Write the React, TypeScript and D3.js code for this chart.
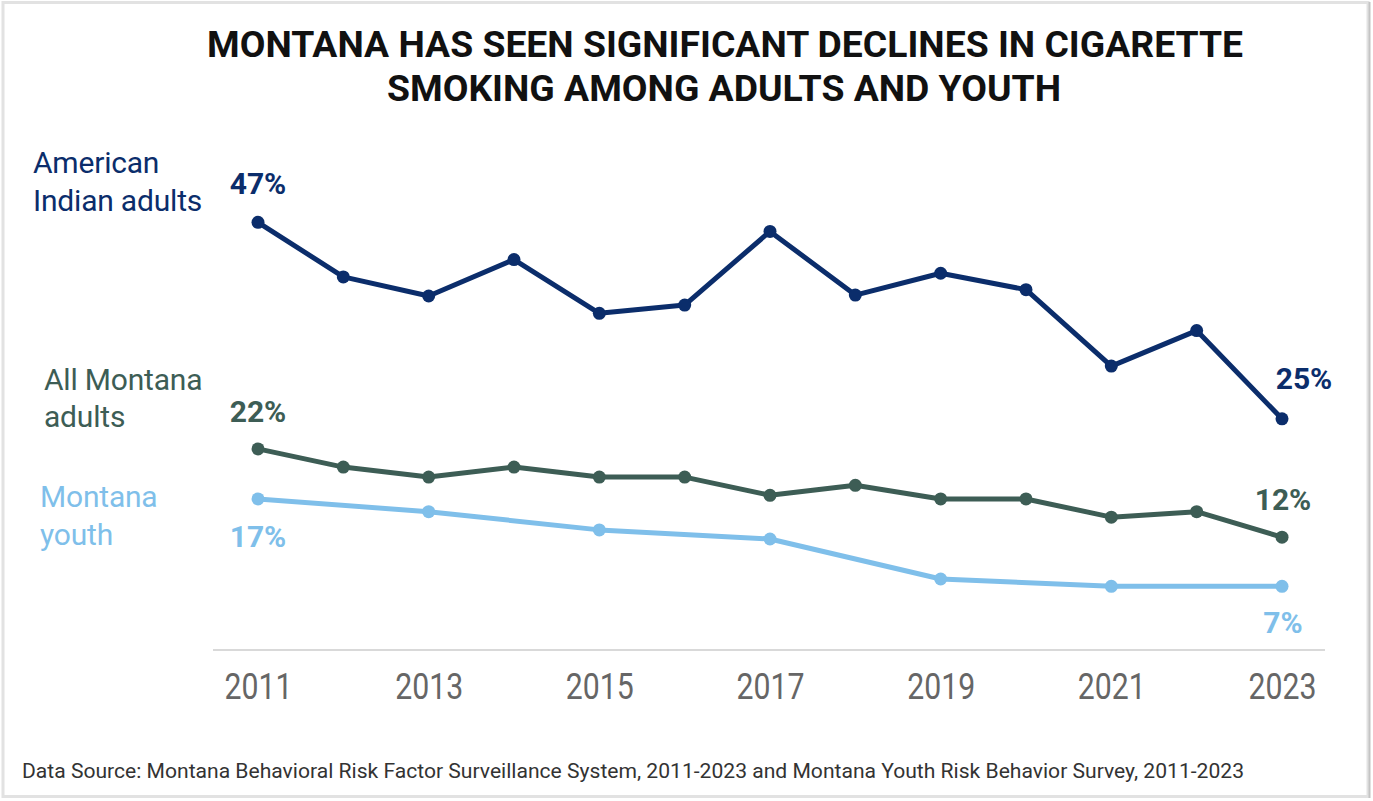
import React, { useEffect, useRef } from 'react';
import * as d3 from 'd3';

// values (percent of smokers)
const years = [2011, 2012, 2013, 2014, 2015, 2016, 2017, 2018, 2019, 2020, 2021, 2022, 2023];
const americanIndianAdults = [47.0, 41.0, 38.9, 42.9, 37.0, 37.9, 46.0, 39.0, 41.4, 39.6, 31.2, 35.1, 25.4];
const allMontanaAdults = [22.1, 20.1, 19.0, 20.1, 19.0, 19.0, 17.0, 18.1, 16.6, 16.6, 14.6, 15.2, 12.4];
const youthYears = [2011, 2013, 2015, 2017, 2019, 2021, 2023];
const montanaYouth = [16.6, 15.2, 13.2, 12.2, 7.8, 7.0, 7.0];
const tickYears = [2011, 2013, 2015, 2017, 2019, 2021, 2023];

const titleLines = [
  'MONTANA HAS SEEN SIGNIFICANT DECLINES IN CIGARETTE',
  'SMOKING AMONG ADULTS AND YOUTH',
];
const source =
  'Data Source: Montana Behavioral Risk Factor Surveillance System, 2011-2023 and Montana Youth Risk Behavior Survey, 2011-2023';

const W = 1373;
const H = 801;
const FONT = 'Roboto, "Noto Sans", sans-serif';

const NAVY = '#0b2d6b';
const GREEN = '#3d5d55';
const LIGHT = '#7fbfea';

export default function App() {
  const axisRef = useRef<SVGGElement>(null);

  const x = d3.scaleLinear().domain([2011, 2023]).range([258, 1282]);
  const y = d3.scaleLinear().domain([0, 50]).range([650, 195]);

  const line = d3
    .line<[number, number]>()
    .x((d) => x(d[0]))
    .y((d) => y(d[1]));

  const series = [
    { name: 'ai', color: NAVY, pts: years.map((yr, i) => [yr, americanIndianAdults[i]] as [number, number]) },
    { name: 'all', color: GREEN, pts: years.map((yr, i) => [yr, allMontanaAdults[i]] as [number, number]) },
    { name: 'youth', color: LIGHT, pts: youthYears.map((yr, i) => [yr, montanaYouth[i]] as [number, number]) },
  ];

  useEffect(() => {
    if (!axisRef.current) return;
    const g = d3.select(axisRef.current);
    g.selectAll('*').remove();
    g.call(
      d3
        .axisBottom(x)
        .tickValues(tickYears)
        .tickFormat(d3.format('d'))
        .tickSize(0)
        .tickSizeOuter(0)
    );
    g.select('.domain').remove();
    g.selectAll('text')
      .attr('y', 49)
      .attr('dy', 0)
      .attr('font-family', FONT)
      .attr('font-size', 36)
      .attr('fill', '#666')
      .attr('textLength', 68)
      .attr('lengthAdjust', 'spacingAndGlyphs');
  }, []);

  const first = (arr: number[]) => arr[0];
  const last = (arr: number[]) => arr[arr.length - 1];

  return (
    <svg
      width={W}
      height={H}
      style={{ position: 'absolute', left: 0, top: 0, background: '#fff' }}
      fontFamily={FONT}
    >
      {/* frame */}
      <rect x={3} y={2.5} width={1365} height={794} fill="#fff" stroke="#e2e2e2" strokeWidth={3} />
      <line x1={1369.5} y1={2} x2={1369.5} y2={798} stroke="#c4c4c4" strokeWidth={2} />

      {/* title */}
      <text x={725} y={57} textAnchor="middle" fontSize={36} fontWeight={700} fill="#111"
        textLength={1036} lengthAdjust="spacingAndGlyphs">{titleLines[0]}</text>
      <text x={724} y={101} textAnchor="middle" fontSize={36} fontWeight={700} fill="#111"
        textLength={674} lengthAdjust="spacingAndGlyphs">{titleLines[1]}</text>

      {/* baseline */}
      <line x1={213} x2={1325} y1={y(0)} y2={y(0)} stroke="#d9d9d9" strokeWidth={2} />
      <g ref={axisRef} transform={`translate(0,${y(0)})`} />

      {/* lines and points */}
      {series.map((s) => (
        <g key={s.name}>
          <path d={line(s.pts) || ''} fill="none" stroke={s.color} strokeWidth={5} strokeLinejoin="round" />
          {s.pts.map((p, i) => (
            <circle key={i} cx={x(p[0])} cy={y(p[1])} r={6.5} fill={s.color} />
          ))}
        </g>
      ))}

      {/* value labels */}
      <g fontSize={30} fontWeight={700} textAnchor="middle">
        <text x={x(2011)} y={y(first(americanIndianAdults)) - 28} fill={NAVY}>47%</text>
        <text x={x(2023) + 22} y={y(last(americanIndianAdults)) - 30} fill={NAVY}>25%</text>
        <text x={x(2011)} y={y(first(allMontanaAdults)) - 27} fill={GREEN}>22%</text>
        <text x={x(2023) + 1} y={y(last(allMontanaAdults)) - 27} fill={GREEN}>12%</text>
        <text x={x(2011)} y={y(first(montanaYouth)) + 48} fill={LIGHT}>17%</text>
        <text x={x(2023) + 1} y={y(last(montanaYouth)) + 47} fill={LIGHT}>7%</text>
      </g>

      {/* series names */}
      <g fontSize={30} letterSpacing={-0.2}>
        <text x={33} y={173} fill={NAVY}>American</text>
        <text x={33} y={211} fill={NAVY}>Indian adults</text>
        <text x={44} y={390} fill={GREEN}>All Montana</text>
        <text x={44} y={427} fill={GREEN}>adults</text>
        <text x={40} y={507} fill={LIGHT}>Montana</text>
        <text x={40} y={545} fill={LIGHT}>youth</text>
      </g>

      {/* source */}
      <text x={22} y={778} fontSize={20} fill="#333" textLength={1222} lengthAdjust="spacingAndGlyphs">
        {source}
      </text>
    </svg>
  );
}
